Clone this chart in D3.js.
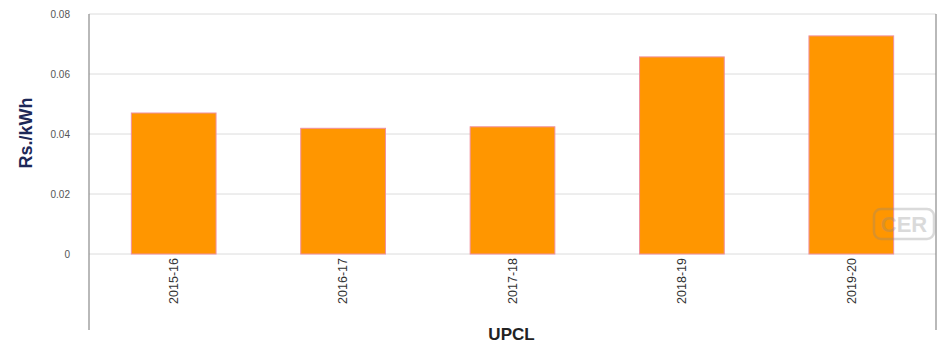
<!DOCTYPE html>
<html><head><meta charset="utf-8">
<script src="https://cdn.jsdelivr.net/npm/d3@7"></script>
<style>body{margin:0;background:#fff}svg{display:block;font-family:"Liberation Sans",Arial,sans-serif}</style>
</head><body><svg id="c" width="943" height="345"></svg>
<script>
const categories = ["2015-16","2016-17","2017-18","2018-19","2019-20"];
const values = [0.047, 0.0419, 0.0424, 0.0657, 0.0727];
const yTicks = [0, 0.02, 0.04, 0.06, 0.08];
const yTickLabels = ["0","0.02","0.04","0.06","0.08"];
const xTitle = "UPCL";
const yTitle = "Rs./kWh";

(function () {
const svg = d3.select("#c");
const pL = 89, pR = 936, pT = 14, zeroY = 254, pB = 330;
const x = d3.scaleBand().domain(categories).range([pL, pR]).paddingInner(0.5).paddingOuter(0.25);
const y = d3.scaleLinear().domain([0, 0.08]).range([zeroY, pT]);

// gridlines
svg.append("g").selectAll("line").data(yTicks).join("line")
  .attr("x1", pL).attr("x2", pR)
  .attr("y1", d => y(d)).attr("y2", d => y(d))
  .attr("stroke", "#dcdcdc").attr("stroke-width", 1);

// y tick labels
svg.append("g").selectAll("text").data(yTicks).join("text")
  .attr("x", 70).attr("y", d => y(d)).attr("dy", "0.35em")
  .attr("text-anchor", "end").attr("font-size", 10).attr("fill", "#555")
  .text((d, i) => yTickLabels[i]);

// axis frame lines
svg.append("line").attr("x1", pL).attr("x2", pL).attr("y1", pT).attr("y2", pB)
  .attr("stroke", "#8a8a8a").attr("stroke-width", 1.2);
svg.append("line").attr("x1", pR).attr("x2", pR).attr("y1", pT).attr("y2", pB)
  .attr("stroke", "#8a8a8a").attr("stroke-width", 1.2);

// bars
svg.append("g").selectAll("rect").data(values).join("rect")
  .attr("x", (d, i) => x(categories[i]))
  .attr("width", x.bandwidth())
  .attr("y", d => y(d))
  .attr("height", d => y(0) - y(d))
  .attr("fill", "#ff9600")
  .attr("stroke", "#f090a0").attr("stroke-width", 1);

// x tick labels
svg.append("g").selectAll("text").data(categories).join("text")
  .attr("transform", d => `translate(${x(d) + x.bandwidth() / 2},258) rotate(-90)`)
  .attr("dy", "0.35em").attr("text-anchor", "end")
  .attr("font-size", 12.5).attr("fill", "#333")
  .text(d => d);

// titles
svg.append("text").attr("x", (pL + pR) / 2 - 1).attr("y", 340)
  .attr("text-anchor", "middle").attr("font-size", 17).attr("font-weight", "bold").attr("fill", "#222")
  .text(xTitle);
svg.append("text").attr("transform", "translate(32,133) rotate(-90)")
  .attr("text-anchor", "middle").attr("font-size", 18).attr("font-weight", "bold").attr("fill", "#1d2858")
  .text(yTitle);

// watermark
const wm = svg.append("g").attr("opacity", 0.3);
wm.append("rect").attr("x", 874).attr("y", 209).attr("width", 60).attr("height", 30).attr("rx", 7)
  .attr("fill", "none").attr("stroke", "#888").attr("stroke-width", 2.5);
wm.append("text").attr("x", 904).attr("y", 232).attr("text-anchor", "middle")
  .attr("font-size", 22).attr("font-weight", "bold").attr("fill", "#888").text("CER");
})();
</script></body></html>
